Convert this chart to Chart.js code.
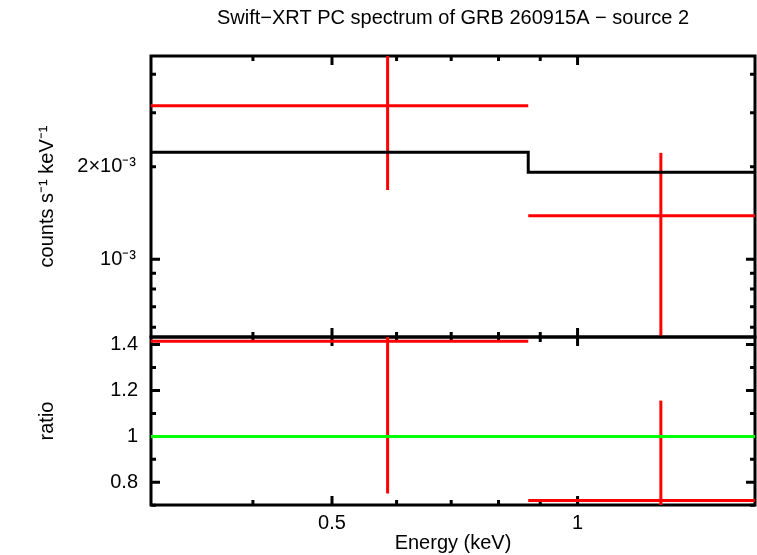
<!DOCTYPE html>
<html>
<head>
<meta charset="utf-8">
<script src="https://cdn.jsdelivr.net/npm/chart.js@4.4.1/dist/chart.umd.min.js"></script>
<style>
  html, body { margin: 0; padding: 0; background: #fff; }
  #wrap { position: relative; width: 757px; height: 555px; }
  #wrap canvas { position: absolute; left: 0; top: 0; }
</style>
</head>
<body>
<div id="wrap">
  <canvas id="spec" width="757" height="555"></canvas>
  <canvas id="ratio" width="757" height="555"></canvas>
</div>
<script>
// Spectrum data
const binLo = [0.3, 0.87];
const binHi = [0.87, 1.66];
const binMid = [0.585, 1.265];
const rate = [3.16e-3, 1.384e-3];
const rateErr = [1.48e-3, 0.836e-3];
const model = [2.232e-3, 1.92e-3, 1.92e-3];
const modelX = [0.3, 0.87, 1.66];
const ratio = [1.414, 0.721];
const ratioErr = [0.663, 0.435];

// Axis ranges and ticks
const xMin = 0.3, xMax = 1.65;
const xTickVals = [0.5, 1];
const xTickLabels = ['0.5', '1'];
const xMinor = [0.4, 0.6, 0.7, 0.8, 0.9];

const specMin = 5.58e-4, specMax = 4.59e-3;
const specTickVals = [1e-3, 2e-3];
const specTickLabels = ['10\u207B\u00B3', '2\u00D710\u207B\u00B3'];
const specMajor = [1e-3];
const specMinor = [6e-4, 7e-4, 8e-4, 9e-4, 2e-3, 3e-3, 4e-3];

const ratioMin = 0.701, ratioMax = 1.433;
const ratioTickVals = [0.8, 1, 1.2, 1.4];
const ratioTickLabels = ['0.8', '1', '1.2', '1.4'];
const ratioMinor = [0.7, 0.9, 1.1, 1.3];

const FONT = 'Liberation Sans, Arial, Helvetica, sans-serif';
const RED = '#ff0000';

// Frame and inward ticks, placed with the chart's own scales (under the data)
const frameTicks = {
    id: 'frameTicks',
    beforeDatasetsDraw(chart, args, opts) {
        const {ctx, chartArea: a, scales} = chart;
        const xs = scales.x, ys = scales.y;
        ctx.save();
        ctx.strokeStyle = '#000';
        ctx.lineWidth = 3;
        ctx.lineCap = 'butt';
        ctx.beginPath();
        const xt = (vals, len) => vals.forEach(v => {
            const px = xs.getPixelForValue(v);
            ctx.moveTo(px, a.top); ctx.lineTo(px, a.top + len);
            ctx.moveTo(px, a.bottom); ctx.lineTo(px, a.bottom - len);
        });
        const yt = (vals, len) => vals.forEach(v => {
            const py = ys.getPixelForValue(v);
            ctx.moveTo(a.left, py); ctx.lineTo(a.left + len, py);
            ctx.moveTo(a.right, py); ctx.lineTo(a.right - len, py);
        });
        xt(xTickVals, 9);
        xt(xMinor, 5);
        yt(opts.yMajor, 9);
        yt(opts.yMinor, 5);
        ctx.stroke();
        ctx.strokeRect(a.left, a.top, a.right - a.left, a.bottom - a.top);
        ctx.restore();
    }
};

function seg(points, color) {
    return {
        data: points,
        borderColor: color,
        borderWidth: 3,
        pointRadius: 0,
        fill: false,
        tension: 0
    };
}

function fixedTicks(vals, labels) {
    return {
        afterBuildTicks: (scale) => { scale.ticks = vals.map(v => ({value: v})); },
        ticks: {
            autoSkip: false,
            maxRotation: 0,
            color: '#000',
            font: {family: FONT, size: 20},
            callback: (v, i) => labels[i]
        }
    };
}

// Top panel: spectrum
const specSets = [];
specSets.push(Object.assign(seg(modelX.map((x, i) => ({x: x, y: model[i]})), '#000'), {stepped: 'before'}));
for (let i = 0; i < rate.length; i++) {
    specSets.push(seg([{x: binLo[i], y: rate[i]}, {x: binHi[i], y: rate[i]}], RED));
    specSets.push(seg([{x: binMid[i], y: rate[i] - rateErr[i]}, {x: binMid[i], y: rate[i] + rateErr[i]}], RED));
}

const ySpec = Object.assign({
    type: 'logarithmic',
    min: specMin,
    max: specMax,
    afterFit: (s) => { s.width = 151; },
    grid: {display: false, drawTicks: false},
    border: {display: false},
    title: {
        display: true,
        text: 'counts s\u207B\u00B9 keV\u207B\u00B9',
        color: '#000',
        font: {family: FONT, size: 20},
        padding: {top: 35, bottom: 0}
    }
}, fixedTicks(specTickVals, specTickLabels));
ySpec.ticks.padding = 15;

new Chart(document.getElementById('spec'), {
    type: 'line',
    data: {datasets: specSets},
    plugins: [frameTicks],
    options: {
        responsive: false,
        animation: false,
        events: [],
        layout: {padding: {left: 0, right: 2, top: 0, bottom: 218}},
        plugins: {
            legend: {display: false},
            tooltip: {enabled: false},
            title: {
                display: true,
                fullSize: false,
                text: 'Swift\u2212XRT PC spectrum of GRB 260915A \u2212 source 2',
                color: '#000',
                font: {family: FONT, size: 20, weight: 'normal'},
                padding: {top: 6, bottom: 26}
            },
            frameTicks: {yMajor: specMajor, yMinor: specMinor}
        },
        scales: {
            x: {type: 'logarithmic', min: xMin, max: xMax, display: false},
            y: ySpec
        }
    }
});

// Bottom panel: ratio
const ratioSets = [];
ratioSets.push(seg([{x: xMin, y: 1}, {x: xMax, y: 1}], '#00ff00'));
for (let i = 0; i < ratio.length; i++) {
    ratioSets.push(seg([{x: binLo[i], y: ratio[i]}, {x: binHi[i], y: ratio[i]}], RED));
    ratioSets.push(seg([{x: binMid[i], y: ratio[i] - ratioErr[i]}, {x: binMid[i], y: ratio[i] + ratioErr[i]}], RED));
}

const xRatio = Object.assign({
    type: 'logarithmic',
    min: xMin,
    max: xMax,
    afterFit: (s) => { s.height = 50; },
    grid: {display: false, drawTicks: false},
    border: {display: false},
    title: {
        display: true,
        text: 'Energy (keV)',
        color: '#000',
        font: {family: FONT, size: 20},
        padding: {top: 0, bottom: 0}
    }
}, fixedTicks(xTickVals, xTickLabels));
xRatio.ticks.padding = 6;

const yRatio = Object.assign({
    type: 'linear',
    min: ratioMin,
    max: ratioMax,
    afterFit: (s) => { s.width = 151; },
    grid: {display: false, drawTicks: false},
    border: {display: false},
    title: {
        display: true,
        text: 'ratio',
        color: '#000',
        font: {family: FONT, size: 20},
        padding: {top: 35, bottom: 0}
    }
}, fixedTicks(ratioTickVals, ratioTickLabels));
yRatio.ticks.padding = 13;

new Chart(document.getElementById('ratio'), {
    type: 'line',
    data: {datasets: ratioSets},
    plugins: [frameTicks],
    options: {
        responsive: false,
        animation: false,
        events: [],
        layout: {padding: {left: 0, right: 2, top: 337, bottom: 0}},
        plugins: {
            legend: {display: false},
            tooltip: {enabled: false},
            frameTicks: {yMajor: ratioTickVals, yMinor: ratioMinor}
        },
        scales: {x: xRatio, y: yRatio}
    }
});
</script>
</body>
</html>
